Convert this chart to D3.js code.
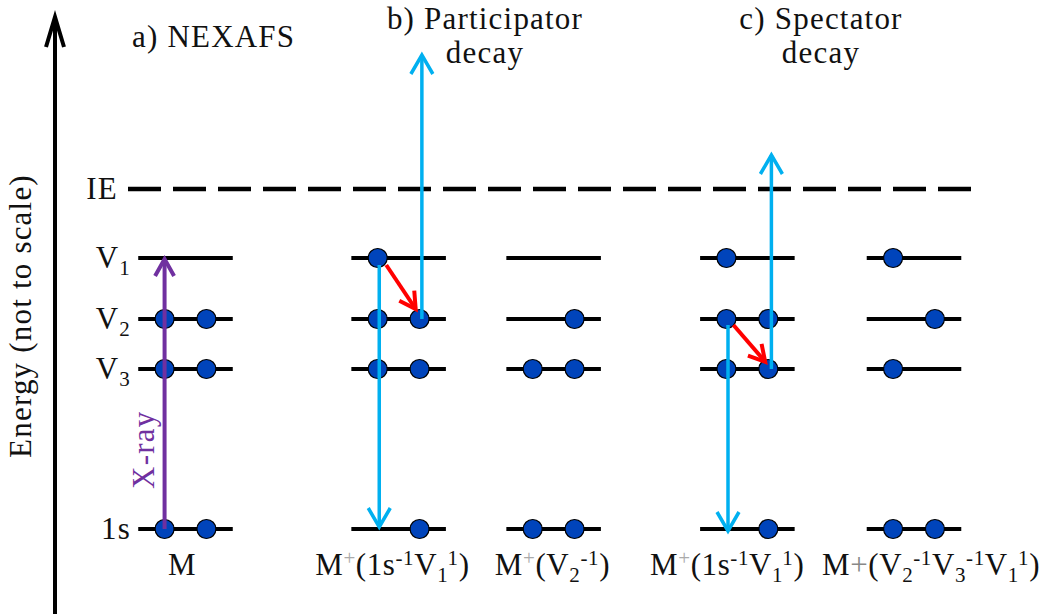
<!DOCTYPE html>
<html>
<head>
<meta charset="utf-8">
<script src="https://cdn.jsdelivr.net/npm/d3@7"></script>
</head>
<body style="margin:0;background:#fff">
<div id="chart-area"></div>
<script>
// energy levels (schematic units, not to scale)
const levels = ['IE', 'V1', 'V2', 'V3', '1s'];
const levelEnergy = [8.5, 6.775, 5.25, 4.0, 0];
const levelLabels = [['IE', ''], ['V', '1'], ['V', '2'], ['V', '3'], ['1s', '']];

// columns (states)
const columns = ['a', 'b1', 'b2', 'c1', 'c2'];
const columnPos = [0, 2.75, 4.75, 7.25, 9.4];

// electrons: [column, level, side]
const electrons = [
    ['a', 'V2', -1], ['a', 'V2', 1], ['a', 'V3', -1], ['a', 'V3', 1], ['a', '1s', -1], ['a', '1s', 1],
    ['b1', 'V1', -1], ['b1', 'V2', -1], ['b1', 'V2', 1], ['b1', 'V3', -1], ['b1', 'V3', 1], ['b1', '1s', 1],
    ['b2', 'V2', 1], ['b2', 'V3', -1], ['b2', 'V3', 1], ['b2', '1s', -1], ['b2', '1s', 1],
    ['c1', 'V1', -1], ['c1', 'V2', -1], ['c1', 'V2', 1], ['c1', 'V3', -1], ['c1', 'V3', 1], ['c1', '1s', 1],
    ['c2', 'V1', -1], ['c2', 'V2', 1], ['c2', 'V3', -1], ['c2', '1s', -1], ['c2', '1s', 1]
];

// arrows: [x1, e1, x2, e2, kind]
const arrows = [
    [-0.27, 0, -0.27, 6.75, 'xray'],
    [2.50, 6.6, 2.50, 0.05, 'cyan'],
    [3.05, 5.25, 3.05, 11.85, 'cyan'],
    [2.59, 6.6, 2.97, 5.5, 'red'],
    [7.00, 5.1, 7.00, -0.05, 'cyan'],
    [7.56, 4.0, 7.56, 9.35, 'cyan'],
    [7.07, 5.1, 7.48, 4.18, 'red']
];

// column titles
const titleA = ['a) NEXAFS'];
const titleB = ['b) Participator', 'decay'];
const titleC = ['c) Spectator', 'decay'];

// state labels below the 1s level: [text, style]
const stateLabels = [
    [['M', 'n']],
    [['M', 'n'], ['+', 'supg'], ['(1s', 'n'], ['-1', 'sup'], ['V', 'n'], ['1', 'sub'], ['1', 'sup'], [')', 'n']],
    [['M', 'n'], ['+', 'supg'], ['(V', 'n'], ['2', 'sub'], ['-1', 'sup'], [')', 'n']],
    [['M', 'n'], ['+', 'supg'], ['(1s', 'n'], ['-1', 'sup'], ['V', 'n'], ['1', 'sub'], ['1', 'sup'], [')', 'n']],
    [['M', 'n'], ['+', 'g'], ['(V', 'n'], ['2', 'sub'], ['-1', 'sup'], ['V', 'n'], ['3', 'sub'], ['-1', 'sup'], ['V', 'n'], ['1', 'sub'], ['1', 'sup'], [')', 'n']]
];
const labelCenters = [-0.045, 2.67, 4.735, 6.99, 9.62];

const W = 1046, H = 614;
const colors = {cyan: '#00b0f0', red: '#ff0000', xray: '#7030a0', electron: '#0044bb'};
const FONT = '"Liberation Serif", serif';
const FS = 31, LS = 1.2;

const svg = d3.select('#chart-area')
    .append('svg')
    .attr('width', W)
    .attr('height', H);

const x = d3.scaleLinear().domain([0, 10]).range([185.5, 960.5]);
const y = d3.scaleLinear().domain([0, 10]).range([529, 129]);

const levelE = l => levelEnergy[levels.indexOf(l)];
const colX = c => columnPos[columns.indexOf(c)];

// text helper: serif face set inline on every text
const addText = (sel) => sel.append('text')
    .style('font-family', FONT)
    .attr('font-family', 'Liberation Serif')
    .attr('font-size', FS + 'px')
    .attr('fill', '#111');

// energy axis
svg.append('line')
    .attr('x1', 55).attr('x2', 55)
    .attr('y1', H).attr('y2', y(12.8))
    .attr('stroke', '#000').attr('stroke-width', 4);

const arrowHead = (x2, y2, x1, y1, len, half) => {
    const a = Math.atan2(y2 - y1, x2 - x1);
    const bx = x2 - len * Math.cos(a), by = y2 - len * Math.sin(a);
    const px = -Math.sin(a) * half, py = Math.cos(a) * half;
    return 'M' + (bx + px) + ',' + (by + py) + 'L' + x2 + ',' + y2 + 'L' + (bx - px) + ',' + (by - py);
};

svg.append('path')
    .attr('d', arrowHead(55, y(12.8), 55, H, 30, 9))
    .attr('fill', 'none').attr('stroke', '#000').attr('stroke-width', 4);

addText(svg)
    .text('Energy (not to scale)')
    .attr('transform', 'translate(31,316) rotate(-90)')
    .attr('text-anchor', 'middle')
    .attr('letter-spacing', LS);

// IE dashed line
svg.append('line')
    .attr('x1', 128).attr('x2', 978)
    .attr('y1', y(levelE('IE'))).attr('y2', y(levelE('IE')))
    .attr('stroke', '#000').attr('stroke-width', 4.5)
    .attr('stroke-dasharray', '33,12');

// level labels
levels.forEach((l, i) => {
    const t = addText(svg)
        .attr('x', l === 'IE' ? 118 : 131)
        .attr('y', y(levelEnergy[i]) + 10)
        .attr('text-anchor', 'end')
        .attr('letter-spacing', LS);
    t.append('tspan').text(levelLabels[i][0]);
    if (levelLabels[i][1]) {
        t.append('tspan').text(levelLabels[i][1])
            .attr('font-size', '21px').attr('dy', 7);
    }
});

// level lines in each column
const boundLevels = levels.filter(l => l !== 'IE');
columns.forEach(c => {
    svg.selectAll(null)
        .data(boundLevels)
        .enter()
        .append('line')
        .attr('x1', x(colX(c) - 0.61))
        .attr('x2', x(colX(c) + 0.61))
        .attr('y1', d => y(levelE(d)))
        .attr('y2', d => y(levelE(d)))
        .attr('stroke', '#000').attr('stroke-width', 4);
});

// electrons
svg.selectAll('circle.el')
    .data(electrons)
    .enter()
    .append('circle')
    .attr('class', 'el')
    .attr('cx', d => x(colX(d[0]) + d[2] * 0.27))
    .attr('cy', d => y(levelE(d[1])))
    .attr('r', 9.5)
    .attr('fill', colors.electron)
    .attr('stroke', '#000').attr('stroke-width', 1.2);

// arrows
const headSize = {cyan: [19, 11], red: [16, 9], xray: [17, 9.5]};
const arrowG = svg.selectAll('g.arrow')
    .data(arrows)
    .enter()
    .append('g')
    .attr('class', 'arrow')
    .attr('fill', 'none')
    .attr('stroke', d => colors[d[4]])
    .attr('stroke-width', d => d[4] === 'cyan' ? 3.5 : 4);

arrowG.append('line')
    .attr('x1', d => x(d[0])).attr('y1', d => y(d[1]))
    .attr('x2', d => x(d[2])).attr('y2', d => y(d[3]));

arrowG.append('path')
    .attr('d', d => arrowHead(x(d[2]), y(d[3]), x(d[0]), y(d[1]), headSize[d[4]][0], headSize[d[4]][1]));

// X-ray label
addText(svg)
    .text('X-ray')
    .attr('transform', 'translate(154,' + y(1.98) + ') rotate(-90)')
    .attr('text-anchor', 'middle')
    .attr('letter-spacing', LS)
    .attr('fill', colors.xray);

// column titles
const addTitle = (lines, cx, top, anchor) => {
    lines.forEach((s, i) => {
        addText(svg)
            .text(s)
            .attr('x', cx)
            .attr('y', top + i * 34)
            .attr('text-anchor', anchor)
            .attr('letter-spacing', LS);
    });
};
addTitle(titleA, 132, 47, 'start');
addTitle(titleB, 485, 29, 'middle');
addTitle(titleC, 821, 29, 'middle');

// state labels
stateLabels.forEach((parts, i) => {
    const t = addText(svg)
        .attr('x', x(labelCenters[i]))
        .attr('y', 575)
        .attr('text-anchor', 'middle')
        .attr('letter-spacing', 0.6);
    let shift = 0;
    parts.forEach(p => {
        let target = 0, size = FS, fill = null;
        if (p[1] === 'sup' || p[1] === 'supg') { target = -10; size = 21; }
        if (p[1] === 'sub') { target = 7; size = 21; }
        if (p[1] === 'supg') fill = '#aaaaaa';
        if (p[1] === 'g') fill = '#888888';
        const ts = t.append('tspan').text(p[0])
            .attr('font-size', size + 'px')
            .attr('dy', target - shift);
        if (fill) ts.attr('fill', fill);
        shift = target;
    });
});
</script>
</body>
</html>
